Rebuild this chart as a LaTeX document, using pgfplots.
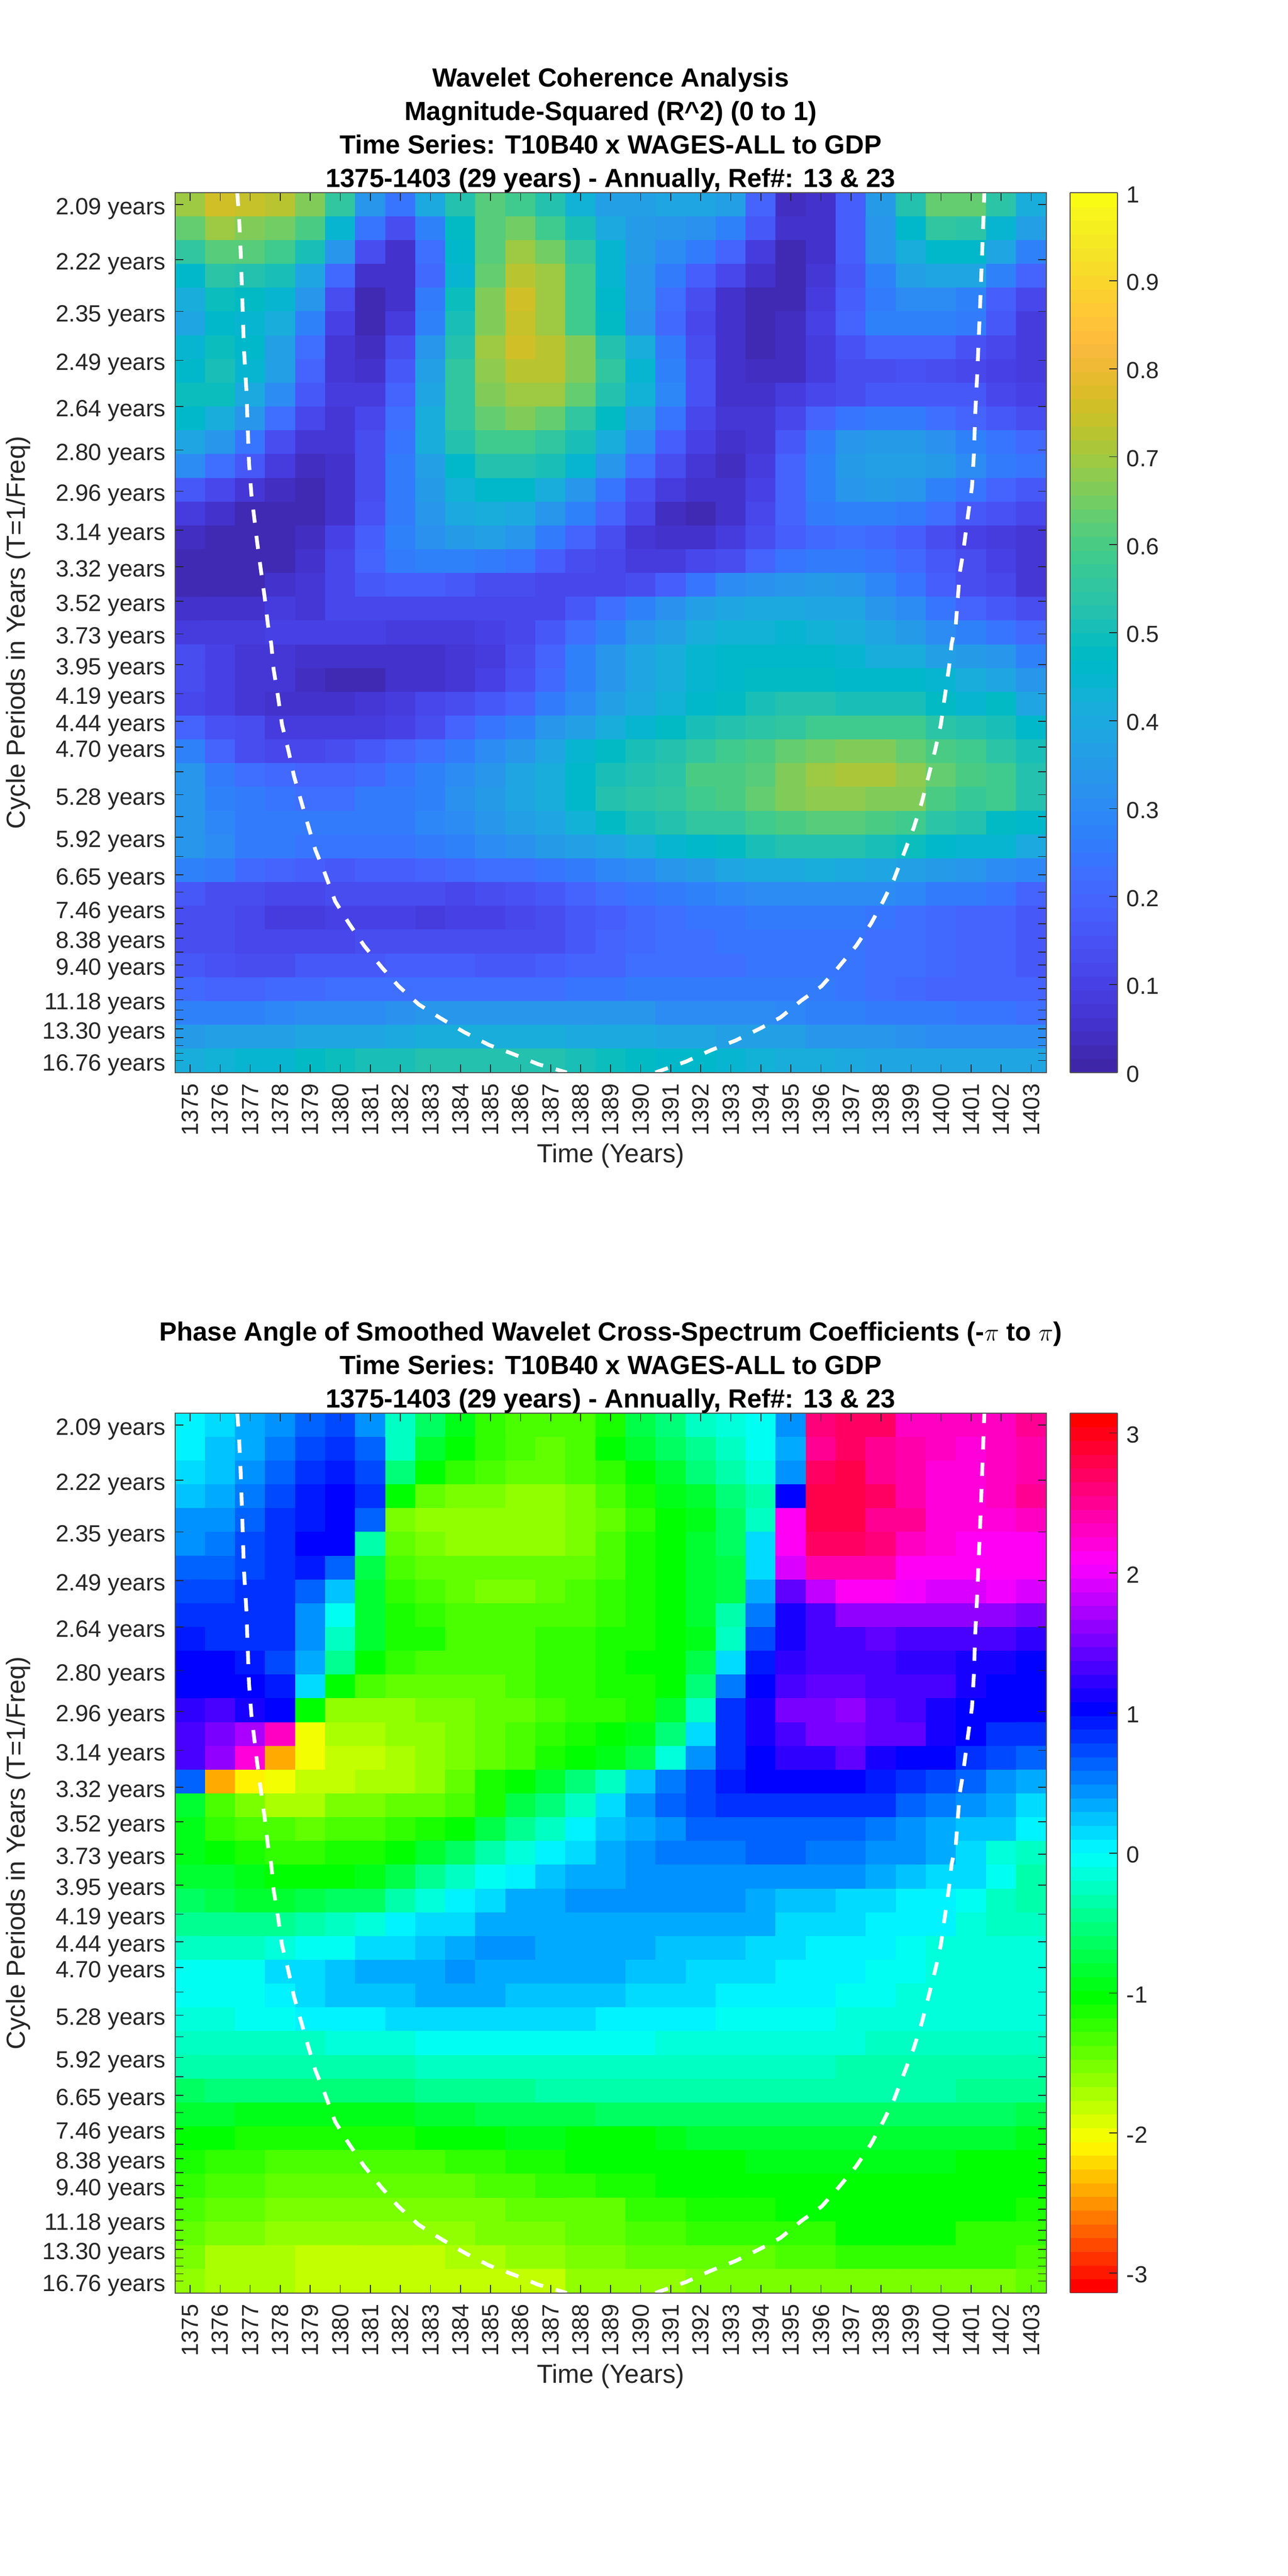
\documentclass[border=0pt]{standalone}
\usepackage{pgfplots}
\usepackage{pgfplotstable}
\usepackage{fontspec}
\setmainfont{Liberation Sans}
\pgfplotsset{compat=1.18}
\definecolor{mtxt}{rgb}{0.15,0.15,0.15}
\pgfplotsset{
colormap={parula64}{
rgb=(0.2422,0.1504,0.6603) rgb=(0.2504,0.1650,0.7076) rgb=(0.2578,0.1818,0.7511) rgb=(0.2647,0.1978,0.7952)
rgb=(0.2706,0.2147,0.8364) rgb=(0.2751,0.2342,0.8710) rgb=(0.2783,0.2559,0.8991) rgb=(0.2803,0.2782,0.9221)
rgb=(0.2813,0.3006,0.9414) rgb=(0.2810,0.3228,0.9579) rgb=(0.2795,0.3447,0.9717) rgb=(0.2760,0.3667,0.9829)
rgb=(0.2699,0.3892,0.9906) rgb=(0.2602,0.4123,0.9952) rgb=(0.2440,0.4358,0.9988) rgb=(0.2206,0.4603,0.9973)
rgb=(0.1963,0.4847,0.9892) rgb=(0.1834,0.5074,0.9798) rgb=(0.1786,0.5289,0.9682) rgb=(0.1764,0.5499,0.9520)
rgb=(0.1687,0.5703,0.9359) rgb=(0.1540,0.5902,0.9218) rgb=(0.1460,0.6091,0.9079) rgb=(0.1380,0.6276,0.8973)
rgb=(0.1248,0.6459,0.8883) rgb=(0.1113,0.6635,0.8763) rgb=(0.0952,0.6798,0.8598) rgb=(0.0689,0.6948,0.8394)
rgb=(0.0297,0.7082,0.8163) rgb=(0.0036,0.7203,0.7917) rgb=(0.0067,0.7312,0.7660) rgb=(0.0433,0.7411,0.7394)
rgb=(0.0964,0.7500,0.7120) rgb=(0.1408,0.7584,0.6842) rgb=(0.1717,0.7670,0.6554) rgb=(0.1938,0.7758,0.6251)
rgb=(0.2161,0.7843,0.5923) rgb=(0.2470,0.7918,0.5567) rgb=(0.2906,0.7973,0.5188) rgb=(0.3406,0.8008,0.4789)
rgb=(0.3909,0.8029,0.4354) rgb=(0.4456,0.8024,0.3909) rgb=(0.5044,0.7993,0.3480) rgb=(0.5616,0.7942,0.3045)
rgb=(0.6174,0.7876,0.2612) rgb=(0.6720,0.7793,0.2227) rgb=(0.7242,0.7698,0.1910) rgb=(0.7738,0.7598,0.1646)
rgb=(0.8203,0.7498,0.1535) rgb=(0.8634,0.7406,0.1596) rgb=(0.9035,0.7330,0.1774) rgb=(0.9393,0.7288,0.2100)
rgb=(0.9728,0.7298,0.2394) rgb=(0.9956,0.7434,0.2371) rgb=(0.9970,0.7659,0.2199) rgb=(0.9952,0.7893,0.2028)
rgb=(0.9892,0.8136,0.1885) rgb=(0.9786,0.8386,0.1766) rgb=(0.9676,0.8639,0.1643) rgb=(0.9610,0.8890,0.1537)
rgb=(0.9597,0.9135,0.1423) rgb=(0.9628,0.9373,0.1265) rgb=(0.9691,0.9606,0.1064) rgb=(0.9769,0.9839,0.0805)},
colormap={hsvbase}{rgb=(1,0,0) rgb=(1,1,0) rgb=(0,1,0) rgb=(0,1,1) rgb=(0,0,1) rgb=(1,0,1) rgb=(1,0,0)},
colormap={hsv64}{samples of colormap=(64 of hsvbase)},
hm/.style={
  scale only axis, width=507.4pt, height=512.4pt,
  axis on top, anchor=south west, y dir=reverse,
  xmin=1374.5, xmax=1403.5, ymin=-0.48313, ymax=-0.05387,
  xtick={1375,1376,...,1403},
  ytick={-0.47733,-0.45054,-0.42525,-0.40139,-0.37886,-0.35759,-0.33752,-0.31858,-0.30070,-0.28382,-0.26789,-0.25286,-0.23867,-0.22527,-0.21263,-0.20069,-0.18943,-0.17880,-0.16876,-0.15929,-0.15035,-0.14191,-0.13394,-0.12643,-0.11933,-0.11264,-0.10631,-0.10035,-0.09472,-0.08940,-0.08438,-0.07964,-0.07517,-0.07096,-0.06697,-0.06321,-0.05967},
  yticklabels={2.09 years,2.22 years,2.35 years,2.49 years,2.64 years,2.80 years,2.96 years,3.14 years,3.32 years,3.52 years,3.73 years,3.95 years,4.19 years,4.44 years,4.70 years,{},5.28 years,{},5.92 years,{},6.65 years,{},7.46 years,{},8.38 years,{},9.40 years,{},{},11.18 years,{},{},13.30 years,{},{},{},16.76 years},
  tick align=inside, major tick length=4.8pt, tick style={color=mtxt,line width=0.5pt},
  axis line style={color=mtxt!80!white,line width=0.6pt},
  xticklabel style={rotate=90,anchor=east,inner sep=0pt,xshift=-6.4pt,font=\fontsize{13.6}{13.6}\selectfont,color=mtxt,/pgf/number format/1000 sep={},/pgf/number format/assume math mode=true},
  yticklabel style={anchor=east,inner sep=0pt,xshift=-5.4pt,yshift=-2.5pt,font=\fontsize{13.7}{13.7}\selectfont,color=mtxt},
  xlabel={Time (Years)}, ylabel={Cycle Periods in Years (T=1/Freq)},
  x label style={at={(axis description cs:0.5,-0.0947)},anchor=center,font=\fontsize{15.2}{15.2}\selectfont,color=mtxt},
  y label style={at={(axis description cs:-0.1803,0.5)},anchor=center,font=\fontsize{15.2}{15.2}\selectfont,color=mtxt},
  title style={align=center,font=\bfseries\fontsize{15.3}{19.5}\selectfont,anchor=south,yshift=-9.6pt},
  colormap access=piecewise constant,
  colorbar sampled,
  colorbar shift/.style={xshift=13.9pt},
},
cb/.style={width=27.6pt,samples=65,at={(parent axis.north east)},anchor=north west,y dir=normal,ytick pos=right,tick align=inside,major tick length=4.8pt,
  yticklabel style={anchor=west,inner sep=0pt,xshift=5.2pt,yshift=-1pt,font=\fontsize{13.6}{13.6}\selectfont,color=mtxt},
  axis line style={color=mtxt!80!white,line width=0.5pt},tick style={color=mtxt,line width=0.5pt}},
heat/.style={matrix plot,mesh/cols=29,mesh/ordering=x varies,point meta=explicit,draw=mapped color,line width=0.3pt},
coi/.style={white,line width=2.2pt,dash pattern=on 7.7pt off 7.7pt,no marks},
}
\pgfplotstableread{
1376.57 0.48313
1376.63 0.4706
1376.68 0.4552
1376.74 0.4303
1376.79 0.4071
1376.87 0.3878
1376.96 0.3513
1377.04 0.3359
1377.12 0.3263
1377.23 0.3128
1377.37 0.2975
1377.48 0.2859
1377.59 0.2724
1377.70 0.2631
1377.78 0.2505
1377.92 0.2379
1378.06 0.2235
1378.27 0.2111
1378.46 0.1984
1378.67 0.1876
1378.95 0.1733
1379.17 0.1625
1379.47 0.1517
1379.83 0.1374
1380.29 0.1266
1380.79 0.1158
1381.39 0.1050
1381.94 0.0960
1382.61 0.0871
1383.30 0.0807
1384.12 0.0736
1384.95 0.0673
1385.77 0.0628
1386.59 0.0579
1387.54 0.05387
}\coileft
\pgfplotstableread{
1390.49 0.05387
1391.51 0.0592
1392.33 0.0647
1393.16 0.0695
1393.98 0.0754
1394.65 0.0807
1395.34 0.0889
1396.02 0.0960
1396.57 0.1050
1397.18 0.1158
1397.67 0.1266
1398.07 0.1374
1398.43 0.1481
1398.76 0.1607
1399.09 0.1733
1399.36 0.1858
1399.58 0.1984
1399.80 0.2111
1399.99 0.2235
1400.13 0.2379
1400.27 0.2523
1400.35 0.2631
1400.49 0.2724
1400.62 0.2975
1400.73 0.3071
1400.90 0.3263
1401.03 0.3398
1401.09 0.3552
1401.14 0.3763
1401.20 0.3937
1401.25 0.4109
1401.31 0.4320
1401.36 0.4514
1401.42 0.4745
1401.44 0.48313
}\coiright
\begin{document}
\begin{tikzpicture}
\useasboundingbox (0,0) rectangle (750pt,1500.48pt);
\begin{axis}[hm,at={(102pt,875.76pt)},
  title={Wavelet Coherence Analysis\\Magnitude-Squared (R\textasciicircum 2) (0 to 1)\\Time Series: T10B40 x WAGES-ALL to GDP\\1375-1403 (29 years) - Annually, Ref\#: 13 \& 23},
  colormap name=parula64, point meta min=0, point meta max=1,
  colorbar style={cb,ytick={0,0.1,...,1.01},yticklabels={0,0.1,0.2,0.3,0.4,0.5,0.6,0.7,0.8,0.9,1}},
]
\addplot[heat] table[header=false,row sep=\\,meta index=0,x expr={1375+mod(\coordindex,29)},y expr={-0.47733+0.011602*floor((\coordindex+0.5)/29)}] {
.70\\.76\\.74\\.72\\.67\\.55\\.33\\.24\\.40\\.53\\.61\\.58\\.53\\.43\\.36\\.36\\.38\\.39\\.36\\.19\\.04\\.05\\.18\\.35\\.53\\.63\\.63\\.54\\.42\\
.63\\.70\\.67\\.65\\.60\\.44\\.24\\.13\\.28\\.47\\.62\\.65\\.59\\.50\\.40\\.35\\.33\\.32\\.27\\.17\\.05\\.06\\.18\\.33\\.46\\.55\\.54\\.45\\.36\\
.55\\.62\\.62\\.58\\.51\\.34\\.13\\.05\\.22\\.46\\.62\\.70\\.65\\.55\\.44\\.35\\.30\\.25\\.20\\.09\\.03\\.05\\.18\\.33\\.42\\.46\\.46\\.38\\.27\\
.46\\.54\\.53\\.50\\.39\\.21\\.06\\.05\\.21\\.45\\.64\\.72\\.69\\.58\\.45\\.34\\.26\\.18\\.12\\.06\\.03\\.07\\.17\\.27\\.37\\.39\\.39\\.27\\.19\\
.41\\.49\\.48\\.44\\.33\\.14\\.02\\.05\\.25\\.49\\.66\\.75\\.70\\.58\\.46\\.34\\.22\\.13\\.06\\.03\\.02\\.08\\.18\\.26\\.30\\.31\\.27\\.18\\.12\\
.39\\.46\\.45\\.41\\.28\\.10\\.02\\.08\\.28\\.51\\.67\\.74\\.70\\.59\\.47\\.32\\.21\\.12\\.05\\.02\\.04\\.10\\.20\\.27\\.28\\.27\\.25\\.17\\.09\\
.44\\.49\\.46\\.37\\.22\\.07\\.04\\.14\\.33\\.53\\.69\\.76\\.73\\.66\\.53\\.41\\.26\\.13\\.05\\.02\\.04\\.09\\.15\\.19\\.20\\.19\\.15\\.11\\.08\\
.46\\.50\\.44\\.36\\.20\\.07\\.06\\.17\\.37\\.56\\.68\\.72\\.72\\.66\\.55\\.44\\.28\\.15\\.06\\.04\\.04\\.09\\.13\\.14\\.15\\.13\\.12\\.10\\.08\\
.49\\.49\\.40\\.30\\.17\\.08\\.08\\.20\\.38\\.55\\.66\\.69\\.69\\.63\\.53\\.43\\.29\\.15\\.06\\.05\\.09\\.12\\.14\\.17\\.17\\.17\\.16\\.12\\.10\\
.46\\.41\\.33\\.23\\.12\\.07\\.12\\.23\\.41\\.55\\.63\\.66\\.64\\.56\\.47\\.36\\.24\\.12\\.07\\.07\\.12\\.19\\.24\\.26\\.26\\.23\\.20\\.17\\.14\\
.39\\.33\\.24\\.14\\.07\\.07\\.13\\.24\\.41\\.52\\.58\\.58\\.55\\.50\\.42\\.30\\.18\\.10\\.05\\.07\\.17\\.26\\.33\\.35\\.35\\.32\\.27\\.24\\.21\\
.31\\.22\\.16\\.08\\.04\\.06\\.14\\.25\\.37\\.46\\.53\\.53\\.50\\.45\\.34\\.23\\.14\\.07\\.04\\.09\\.20\\.28\\.35\\.37\\.37\\.35\\.30\\.26\\.24\\
.17\\.12\\.07\\.04\\.02\\.05\\.13\\.25\\.35\\.43\\.46\\.46\\.41\\.33\\.24\\.15\\.08\\.05\\.05\\.10\\.20\\.28\\.34\\.35\\.33\\.28\\.24\\.20\\.17\\
.08\\.05\\.03\\.02\\.02\\.06\\.15\\.26\\.34\\.40\\.41\\.40\\.34\\.27\\.19\\.11\\.04\\.03\\.05\\.11\\.19\\.25\\.27\\.27\\.25\\.22\\.17\\.15\\.11\\
.04\\.02\\.02\\.02\\.04\\.10\\.18\\.27\\.32\\.35\\.36\\.33\\.26\\.19\\.13\\.07\\.05\\.06\\.09\\.13\\.18\\.21\\.23\\.21\\.18\\.13\\.10\\.08\\.07\\
.02\\.02\\.02\\.03\\.05\\.12\\.19\\.25\\.27\\.27\\.26\\.24\\.18\\.13\\.11\\.09\\.08\\.11\\.14\\.19\\.24\\.26\\.26\\.24\\.21\\.17\\.13\\.10\\.07\\
.02\\.02\\.03\\.05\\.07\\.12\\.16\\.18\\.18\\.17\\.14\\.13\\.11\\.11\\.11\\.13\\.18\\.24\\.30\\.32\\.34\\.35\\.33\\.29\\.24\\.18\\.14\\.11\\.07\\
.05\\.05\\.05\\.08\\.07\\.11\\.11\\.12\\.11\\.11\\.11\\.11\\.12\\.16\\.22\\.27\\.32\\.36\\.38\\.40\\.40\\.38\\.38\\.34\\.30\\.24\\.19\\.16\\.14\\
.09\\.08\\.08\\.10\\.10\\.10\\.10\\.09\\.09\\.09\\.10\\.12\\.17\\.22\\.28\\.34\\.37\\.41\\.43\\.43\\.44\\.43\\.42\\.39\\.35\\.30\\.27\\.24\\.21\\
.13\\.10\\.07\\.07\\.06\\.06\\.06\\.06\\.06\\.07\\.08\\.13\\.19\\.27\\.33\\.39\\.42\\.44\\.46\\.46\\.46\\.46\\.45\\.42\\.41\\.37\\.35\\.33\\.27\\
.13\\.10\\.07\\.07\\.04\\.03\\.03\\.05\\.06\\.07\\.10\\.15\\.21\\.27\\.34\\.39\\.42\\.44\\.46\\.47\\.47\\.47\\.46\\.46\\.46\\.44\\.41\\.38\\.34\\
.12\\.10\\.07\\.06\\.06\\.06\\.07\\.08\\.11\\.13\\.17\\.20\\.26\\.31\\.36\\.40\\.43\\.46\\.47\\.50\\.52\\.52\\.51\\.51\\.50\\.47\\.45\\.47\\.38\\
.20\\.15\\.13\\.09\\.08\\.09\\.09\\.10\\.14\\.19\\.24\\.27\\.33\\.37\\.41\\.45\\.47\\.50\\.53\\.54\\.56\\.58\\.59\\.59\\.58\\.54\\.52\\.50\\.46\\
.27\\.19\\.14\\.12\\.12\\.13\\.17\\.20\\.23\\.26\\.31\\.34\\.39\\.44\\.48\\.50\\.52\\.55\\.58\\.60\\.64\\.65\\.66\\.66\\.64\\.60\\.58\\.54\\.51\\
.33\\.25\\.22\\.21\\.19\\.19\\.21\\.24\\.27\\.31\\.34\\.38\\.42\\.46\\.50\\.52\\.54\\.60\\.60\\.62\\.66\\.69\\.71\\.71\\.68\\.63\\.60\\.58\\.52\\
.33\\.28\\.25\\.24\\.23\\.23\\.25\\.26\\.28\\.32\\.35\\.38\\.41\\.46\\.52\\.54\\.56\\.59\\.60\\.63\\.66\\.68\\.68\\.67\\.66\\.60\\.57\\.58\\.52\\
.34\\.29\\.26\\.25\\.25\\.25\\.25\\.26\\.29\\.30\\.33\\.36\\.39\\.43\\.48\\.50\\.53\\.55\\.56\\.58\\.60\\.61\\.61\\.60\\.58\\.54\\.52\\.48\\.46\\
.34\\.30\\.26\\.25\\.24\\.24\\.24\\.24\\.26\\.27\\.30\\.32\\.35\\.37\\.38\\.41\\.44\\.46\\.48\\.51\\.53\\.53\\.53\\.51\\.49\\.46\\.45\\.44\\.40\\
.28\\.25\\.21\\.19\\.18\\.17\\.18\\.18\\.20\\.21\\.22\\.23\\.24\\.26\\.29\\.31\\.34\\.35\\.38\\.40\\.40\\.41\\.40\\.39\\.37\\.35\\.33\\.31\\.29\\
.16\\.13\\.13\\.12\\.12\\.13\\.13\\.13\\.13\\.12\\.14\\.15\\.17\\.20\\.22\\.24\\.26\\.28\\.29\\.30\\.30\\.31\\.31\\.30\\.29\\.26\\.25\\.24\\.20\\
.14\\.13\\.12\\.09\\.09\\.10\\.10\\.10\\.09\\.10\\.10\\.12\\.14\\.16\\.18\\.21\\.23\\.24\\.24\\.25\\.25\\.25\\.25\\.24\\.23\\.21\\.20\\.19\\.16\\
.14\\.13\\.12\\.11\\.11\\.12\\.13\\.13\\.13\\.13\\.13\\.13\\.14\\.17\\.19\\.21\\.22\\.23\\.24\\.24\\.24\\.24\\.24\\.23\\.22\\.21\\.20\\.19\\.17\\
.17\\.15\\.14\\.14\\.16\\.17\\.17\\.18\\.18\\.18\\.17\\.17\\.18\\.19\\.20\\.22\\.23\\.23\\.23\\.24\\.24\\.24\\.24\\.23\\.22\\.21\\.20\\.19\\.17\\
.21\\.19\\.19\\.21\\.21\\.22\\.22\\.23\\.23\\.23\\.23\\.23\\.23\\.24\\.24\\.25\\.25\\.25\\.25\\.25\\.25\\.25\\.24\\.23\\.21\\.20\\.20\\.19\\.19\\
.27\\.27\\.28\\.29\\.30\\.30\\.31\\.32\\.33\\.33\\.33\\.33\\.33\\.33\\.33\\.33\\.31\\.31\\.30\\.30\\.29\\.28\\.27\\.26\\.25\\.25\\.24\\.24\\.23\\
.35\\.36\\.36\\.37\\.38\\.39\\.39\\.40\\.41\\.42\\.42\\.42\\.41\\.40\\.40\\.40\\.39\\.38\\.37\\.37\\.36\\.34\\.33\\.33\\.32\\.31\\.30\\.30\\.30\\
.41\\.43\\.44\\.45\\.47\\.49\\.50\\.50\\.52\\.53\\.53\\.53\\.52\\.50\\.49\\.48\\.46\\.46\\.44\\.43\\.41\\.41\\.40\\.39\\.38\\.38\\.38\\.38\\.38\\
};
\addplot[coi] table[y expr={-\thisrowno{1}}] {\coileft};
\addplot[coi] table[y expr={-\thisrowno{1}}] {\coiright};
\end{axis}
\begin{axis}[hm,at={(102pt,164.88pt)},
  title={Phase Angle of Smoothed Wavelet Cross-Spectrum Coefficients (-$\pi$ to $\pi$)\\Time Series: T10B40 x WAGES-ALL to GDP\\1375-1403 (29 years) - Annually, Ref\#: 13 \& 23},
  colormap name=hsv64, point meta min=-3.14159, point meta max=3.14159,
  colorbar style={cb,ytick={-3,-2,-1,0,1,2,3},yticklabels={-3,-2,-1,0,1,2,3}},
]
\addplot[heat] table[header=false,row sep=\\,meta index=0,x expr={1375+mod(\coordindex,29)},y expr={-0.47733+0.011602*floor((\coordindex+0.5)/29)}] {
.06\\.15\\.33\\.45\\.6\\.75\\.4\\-.2\\-.65\\-.95\\-1.2\\-1.3\\-1.35\\-1.3\\-1.12\\-.7\\-.5\\-.25\\-.1\\-.02\\.42\\2.6\\2.7\\2.66\\2.35\\2.3\\2.3\\2.3\\2.55\\
.02\\.2\\.33\\.5\\.75\\.85\\.6\\-.2\\-.85\\-1.05\\-1.2\\-1.35\\-1.4\\-1.3\\-1.05\\-.85\\-.6\\-.4\\-.2\\-.02\\.3\\2.55\\2.7\\2.55\\2.45\\2.3\\2.17\\2.3\\2.45\\
.1\\.2\\.42\\.6\\.8\\.9\\.75\\-.5\\-1.05\\-1.2\\-1.35\\-1.4\\-1.4\\-1.35\\-1.25\\-1.05\\-.8\\-.55\\-.35\\-.1\\.42\\2.7\\2.75\\2.55\\2.45\\2.17\\2.17\\2.3\\2.45\\
.2\\.35\\.55\\.75\\.95\\1.05\\.85\\-1.05\\-1.45\\-1.5\\-1.5\\-1.6\\-1.6\\-1.55\\-1.3\\-1.15\\-.95\\-.8\\-.5\\-.3\\1.05\\2.75\\2.75\\2.7\\2.45\\2.17\\2.17\\2.3\\2.5\\
.45\\.45\\.6\\.85\\.95\\1.05\\.6\\-1.5\\-1.6\\-1.6\\-1.65\\-1.65\\-1.65\\-1.55\\-1.4\\-1.2\\-1.05\\-.9\\-.65\\-.25\\2.13\\2.75\\2.75\\2.55\\2.5\\2.17\\2.17\\2.17\\2.3\\
.45\\.55\\.7\\.8\\1.0\\1.0\\-.3\\-1.45\\-1.5\\-1.6\\-1.6\\-1.6\\-1.6\\-1.5\\-1.35\\-1.15\\-1.0\\-.85\\-.6\\.1\\2.13\\2.7\\2.65\\2.62\\2.3\\2.17\\2.13\\2.13\\2.13\\
.65\\.65\\.75\\.8\\.9\\.65\\-.7\\-1.35\\-1.45\\-1.45\\-1.45\\-1.45\\-1.45\\-1.45\\-1.3\\-1.15\\-1.05\\-.85\\-.7\\.1\\1.93\\2.45\\2.45\\2.45\\2.1\\2.1\\2.1\\2.1\\2.1\\
.75\\.75\\.8\\.8\\.65\\.2\\-.8\\-1.2\\-1.3\\-1.4\\-1.5\\-1.5\\-1.4\\-1.35\\-1.2\\-1.15\\-1.05\\-.85\\-.75\\.35\\1.4\\1.83\\2.1\\2.1\\1.98\\1.87\\1.87\\1.97\\1.87\\
.85\\.8\\.8\\.8\\.45\\-.02\\-.85\\-1.15\\-1.25\\-1.35\\-1.35\\-1.35\\-1.3\\-1.3\\-1.25\\-1.15\\-1.05\\-.85\\-.35\\.55\\1.14\\1.36\\1.6\\1.6\\1.6\\1.6\\1.6\\1.6\\1.5\\
.9\\.85\\.85\\.8\\.4\\-.2\\-.85\\-1.1\\-1.15\\-1.3\\-1.3\\-1.3\\-1.2\\-1.2\\-1.15\\-1.1\\-1.0\\-.9\\-.25\\.75\\1.14\\1.3\\1.3\\1.47\\1.3\\1.3\\1.3\\1.3\\1.23\\
1.05\\1.05\\.95\\.75\\.3\\-.45\\-1.05\\-1.2\\-1.35\\-1.35\\-1.35\\-1.3\\-1.25\\-1.2\\-1.15\\-1.05\\-1.05\\-.75\\.1\\.95\\1.2\\1.3\\1.3\\1.3\\1.2\\1.2\\1.12\\1.12\\1.05\\
1.05\\1.05\\1.05\\.95\\.15\\-1.05\\-1.35\\-1.45\\-1.45\\-1.45\\-1.4\\-1.3\\-1.25\\-1.25\\-1.15\\-1.1\\-1.05\\-.55\\.5\\1.05\\1.3\\1.4\\1.4\\1.35\\1.3\\1.3\\1.15\\1.05\\1.0\\
1.2\\1.3\\1.1\\1.05\\-1.05\\-1.6\\-1.65\\-1.65\\-1.55\\-1.5\\-1.4\\-1.4\\-1.3\\-1.2\\-1.2\\-1.1\\-.8\\-.2\\.8\\1.1\\1.5\\1.5\\1.6\\1.4\\1.3\\1.15\\1.05\\1.0\\1.0\\
1.35\\1.5\\1.75\\2.3\\-2.0\\-1.75\\-1.75\\-1.65\\-1.6\\-1.55\\-1.45\\-1.35\\-1.2\\-1.15\\-1.05\\-.95\\-.55\\.1\\.85\\1.1\\1.3\\1.5\\1.5\\1.45\\1.4\\1.15\\1.05\\.85\\.85\\
1.3\\1.6\\2.25\\-2.36\\-1.97\\-1.86\\-1.77\\-1.7\\-1.6\\-1.57\\-1.4\\-1.3\\-1.15\\-1.0\\-.95\\-.7\\-.15\\.4\\.85\\1.05\\1.25\\1.25\\1.4\\1.15\\1.05\\1.0\\.8\\.7\\.6\\
.59\\-2.36\\-2.09\\-1.97\\-1.86\\-1.77\\-1.7\\-1.7\\-1.6\\-1.44\\-1.15\\-1.0\\-.8\\-.5\\-.25\\.2\\.55\\.75\\.95\\1.05\\1.05\\1.05\\1.05\\.95\\.85\\.75\\.6\\.45\\.35\\
-.85\\-1.37\\-1.57\\-1.67\\-1.67\\-1.57\\-1.57\\-1.44\\-1.44\\-1.31\\-1.1\\-.7\\-.5\\-.2\\.15\\.4\\.6\\.7\\.8\\.85\\.85\\.85\\.85\\.8\\.65\\.55\\.4\\.3\\.15\\
-.98\\-1.2\\-1.34\\-1.34\\-1.44\\-1.34\\-1.34\\-1.24\\-1.14\\-1.05\\-.7\\-.45\\-.2\\0\\.2\\.35\\.45\\.6\\.65\\.65\\.65\\.65\\.6\\.5\\.4\\.3\\.25\\.2\\0\\
-.92\\-1.05\\-1.14\\-1.24\\-1.24\\-1.14\\-1.14\\-1.02\\-.85\\-.66\\-.35\\-.1\\.02\\.1\\.3\\.4\\.55\\.55\\.55\\.6\\.6\\.5\\.5\\.45\\.4\\.3\\.1\\-.1\\-.2\\
-.79\\-.85\\-.98\\-1.05\\-1.05\\-1.05\\-.95\\-.72\\-.49\\-.25\\-.05\\.05\\.2\\.35\\.35\\.45\\.45\\.45\\.45\\.45\\.45\\.45\\.45\\.35\\.2\\.15\\.1\\-.05\\-.3\\
-.66\\-.72\\-.79\\-.79\\-.72\\-.66\\-.6\\-.36\\-.19\\0\\.15\\.3\\.3\\.45\\.45\\.45\\.45\\.45\\.45\\.3\\.25\\.25\\.1\\.1\\.05\\.05\\-.05\\-.25\\-.3\\
-.45\\-.45\\-.45\\-.45\\-.36\\-.22\\-.1\\0\\.1\\.19\\.38\\.38\\.38\\.38\\.38\\.38\\.38\\.38\\.3\\.3\\.15\\.15\\.15\\.05\\.05\\.05\\-.1\\-.2\\-.2\\
-.22\\-.22\\-.22\\-.13\\-.03\\-.03\\.1\\.19\\.29\\.32\\.42\\.42\\.38\\.38\\.38\\.35\\.25\\.25\\.25\\.15\\.15\\.05\\.05\\0\\-.02\\-.1\\-.15\\-.15\\-.15\\
-.05\\-.05\\-.05\\.1\\.1\\.22\\.3\\.3\\.3\\.42\\.35\\.32\\.32\\.32\\.32\\.22\\.22\\.1\\.1\\.1\\.02\\.02\\0\\-.02\\-.05\\-.1\\-.12\\-.12\\-.12\\
-.05\\-.05\\-.03\\0\\.12\\.25\\.25\\.25\\.33\\.33\\.33\\.27\\.27\\.27\\.27\\.15\\.15\\.15\\.02\\.02\\.02\\.02\\-.05\\-.08\\-.1\\-.1\\-.1\\-.1\\-.1\\
-.12\\-.12\\-.08\\-.02\\.03\\.03\\.03\\.12\\.12\\.12\\.12\\.12\\.12\\.12\\.03\\.03\\.03\\.03\\-.05\\-.05\\-.05\\-.05\\-.1\\-.12\\-.12\\-.15\\-.15\\-.15\\-.15\\
-.22\\-.22\\-.22\\-.22\\-.22\\-.18\\-.18\\-.18\\-.05\\-.03\\-.03\\-.03\\-.03\\-.03\\-.03\\-.03\\-.12\\-.15\\-.18\\-.18\\-.18\\-.18\\-.18\\-.2\\-.22\\-.22\\-.22\\-.22\\-.22\\
-.35\\-.35\\-.35\\-.35\\-.35\\-.35\\-.3\\-.3\\-.25\\-.25\\-.22\\-.22\\-.22\\-.22\\-.22\\-.22\\-.22\\-.22\\-.22\\-.22\\-.25\\-.25\\-.3\\-.3\\-.3\\-.3\\-.3\\-.3\\-.3\\
-.6\\-.55\\-.55\\-.55\\-.55\\-.55\\-.55\\-.52\\-.45\\-.45\\-.45\\-.4\\-.38\\-.38\\-.38\\-.38\\-.38\\-.38\\-.38\\-.38\\-.38\\-.38\\-.38\\-.38\\-.38\\-.38\\-.4\\-.45\\-.45\\
-.82\\-.82\\-.9\\-.9\\-.9\\-.9\\-.9\\-.9\\-.8\\-.8\\-.75\\-.75\\-.75\\-.7\\-.6\\-.6\\-.6\\-.6\\-.6\\-.6\\-.6\\-.6\\-.6\\-.6\\-.6\\-.6\\-.6\\-.6\\-.7\\
-1.05\\-1.05\\-1.15\\-1.15\\-1.15\\-1.15\\-1.12\\-1.12\\-1.0\\-1.0\\-1.0\\-.98\\-.98\\-1.0\\-1.0\\-1.0\\-.9\\-.85\\-.85\\-.85\\-.85\\-.85\\-.85\\-.85\\-.85\\-.85\\-.85\\-.85\\-.95\\
-1.15\\-1.25\\-1.25\\-1.3\\-1.3\\-1.3\\-1.3\\-1.3\\-1.3\\-1.2\\-1.2\\-1.15\\-1.15\\-1.05\\-1.05\\-1.05\\-1.05\\-1.0\\-1.0\\-.95\\-.95\\-.95\\-.95\\-.95\\-.95\\-.95\\-1.0\\-1.0\\-1.0\\
-1.2\\-1.35\\-1.35\\-1.4\\-1.4\\-1.4\\-1.4\\-1.4\\-1.4\\-1.4\\-1.35\\-1.35\\-1.25\\-1.25\\-1.12\\-1.12\\-1.05\\-1.05\\-1.05\\-1.0\\-1.0\\-1.0\\-1.0\\-1.0\\-1.0\\-1.0\\-1.0\\-1.0\\-1.05\\
-1.35\\-1.45\\-1.45\\-1.55\\-1.55\\-1.55\\-1.55\\-1.55\\-1.55\\-1.5\\-1.5\\-1.45\\-1.45\\-1.4\\-1.4\\-1.2\\-1.2\\-1.1\\-1.1\\-1.1\\-1.05\\-1.0\\-1.0\\-1.0\\-1.0\\-1.0\\-1.0\\-1.0\\-1.1\\
-1.45\\-1.55\\-1.55\\-1.65\\-1.65\\-1.65\\-1.65\\-1.65\\-1.65\\-1.6\\-1.5\\-1.5\\-1.5\\-1.4\\-1.4\\-1.3\\-1.3\\-1.2\\-1.2\\-1.2\\-1.2\\-1.2\\-1.05\\-1.05\\-1.05\\-1.05\\-1.2\\-1.2\\-1.2\\
-1.55\\-1.7\\-1.7\\-1.7\\-1.8\\-1.8\\-1.8\\-1.8\\-1.8\\-1.7\\-1.7\\-1.65\\-1.65\\-1.55\\-1.55\\-1.45\\-1.45\\-1.45\\-1.45\\-1.45\\-1.3\\-1.3\\-1.25\\-1.25\\-1.25\\-1.25\\-1.25\\-1.25\\-1.35\\
-1.6\\-1.75\\-1.75\\-1.75\\-1.8\\-1.8\\-1.8\\-1.8\\-1.8\\-1.8\\-1.8\\-1.8\\-1.8\\-1.65\\-1.65\\-1.65\\-1.65\\-1.55\\-1.55\\-1.5\\-1.5\\-1.5\\-1.5\\-1.5\\-1.5\\-1.5\\-1.5\\-1.5\\-1.45\\
};
\addplot[coi] table[y expr={-\thisrowno{1}}] {\coileft};
\addplot[coi] table[y expr={-\thisrowno{1}}] {\coiright};
\end{axis}
\end{tikzpicture}
\end{document}
